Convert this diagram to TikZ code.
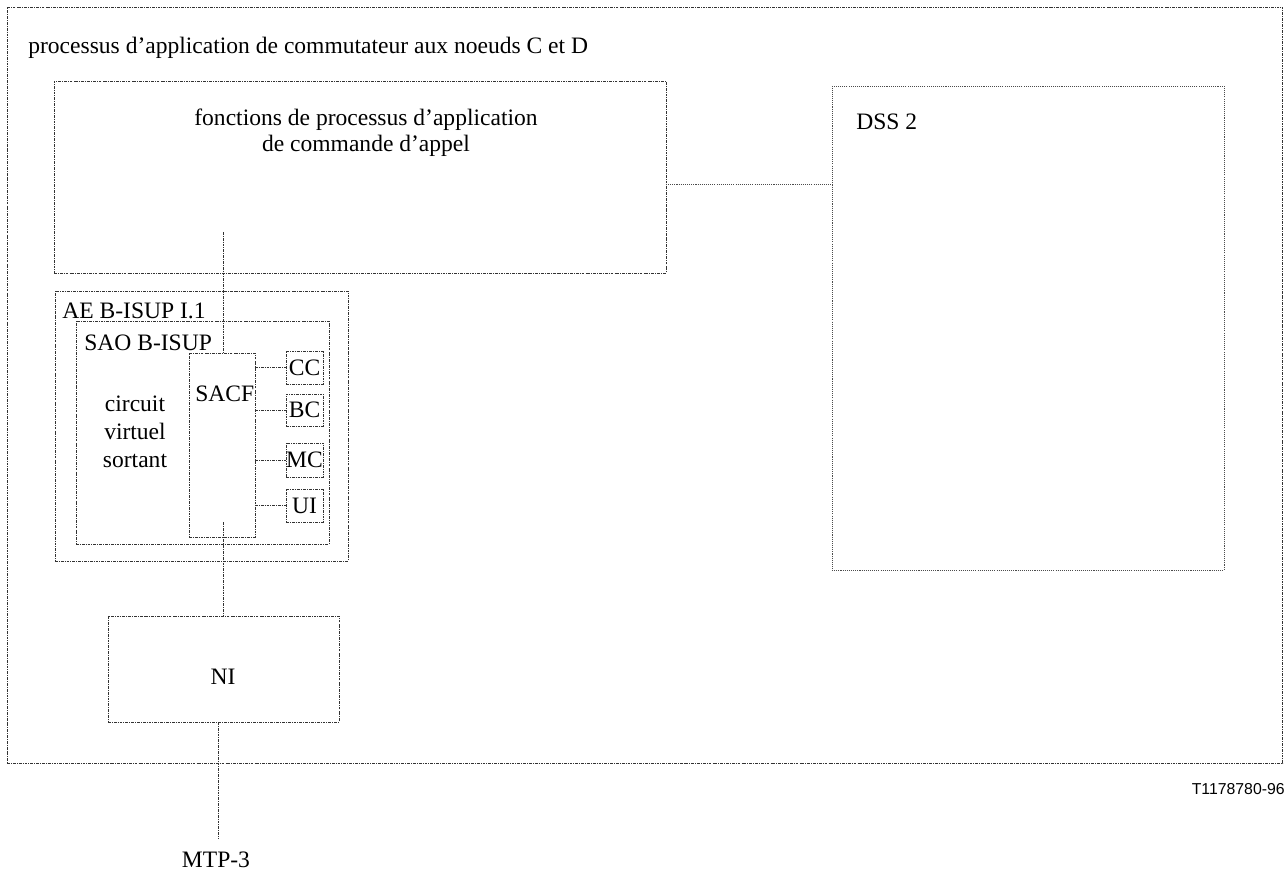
\documentclass[tikz,border=0pt]{standalone}
\usepackage{fontspec}
\setmainfont{Liberation Serif}
\newfontfamily\refsans{Liberation Sans}
\usetikzlibrary{positioning}

\begin{document}
\begin{tikzpicture}[x=0.02cm, y=-0.02cm,
  line/.style = {draw=black!80, line width=.5pt, dash pattern=on 1.6pt off .6pt on .5pt off .6pt},
  dotline/.style = {draw=black!70, line width=.5pt, dash pattern=on .6pt off .6pt},
  box/.style = {line, rectangle, inner sep=0pt, outer sep=0pt},
  txt/.style = {inner sep=0pt, font=\fontsize{13.4}{14.7}\selectfont}]
\useasboundingbox (0,0) rectangle (1287,873);
% boxes
\node[box, minimum width=25.52cm, minimum height=15.12cm] (switch) at (645,385) {};
\node[box, minimum width=12.24cm, minimum height=3.84cm] (call) at (360,177) {};
\node[box, dotline, minimum width=7.84cm, minimum height=9.68cm] (dss) at (1028,328) {};
\node[box, minimum width=5.86cm, minimum height=5.4cm] (ae) at (201.5,426) {};
\node[box, minimum width=5.06cm, minimum height=4.46cm] (sao) at (202.5,432.5) {};
\node[box, minimum width=1.32cm, minimum height=3.68cm] (sacf) at (222,445) {};
\node[box, txt, minimum width=.74cm, minimum height=.66cm] (cc) at (304.5,367.5) {CC};
\node[box, txt, minimum width=.74cm, minimum height=.64cm] (bc) at (304.5,410) {BC};
\node[box, txt, minimum width=.74cm, minimum height=.68cm] (mc) at (304.5,460) {MC};
\node[box, txt, minimum width=.74cm, minimum height=.66cm] (ui) at (304.5,505.5) {UI};
\node[box, minimum width=4.62cm, minimum height=2.12cm] (ni) at (223.5,669) {};
% labels
\node[txt, anchor=base west] (switchlbl) at (28,53) {processus d’application de commutateur aux noeuds C et D};
\node[txt, align=center] (calllbl) at (366,133) {fonctions de processus d’application\\de commande d’appel};
\node[txt, anchor=base west] (dsslbl) at (856,129) {DSS 2};
\node[txt, anchor=base west] (aelbl) at (62,318) {AE B-ISUP I.1};
\node[txt, anchor=base west] (saolbl) at (84,350) {SAO B-ISUP};
\node[txt, anchor=base west] (sacflbl) at (195,401) {SACF};
\node[txt, align=center, font=\fontsize{13.4}{15.9}\selectfont] (vclbl) at (135,432) {circuit\\virtuel\\sortant};
\node[txt] (nilbl) at (223,677) {NI};
\node[txt, anchor=base] (mtp) at (216,867) {MTP-3};
\node[inner sep=0pt, anchor=base east, font=\refsans\fontsize{9}{10}\selectfont] (ref) at (1285,794) {T1178780-96};
% connectors
\coordinate (link) at (700,184);
\coordinate (callin) at (223,232);
\coordinate (sacfin) at (223,522);
\coordinate (mtpend) at (218,838);
\draw[dotline] (call.east |- link) -- (dss.west |- link);
\draw[line] (callin) -- (callin |- sacf.north);
\draw[line] (sacfin) -- (sacfin |- ni.north);
\draw[line] (mtpend |- ni.south) -- (mtpend);
\foreach \b in {cc,bc,mc,ui}
  \draw[line] (sacf.east |- \b.west) -- (\b.west);
\end{tikzpicture}
\end{document}
